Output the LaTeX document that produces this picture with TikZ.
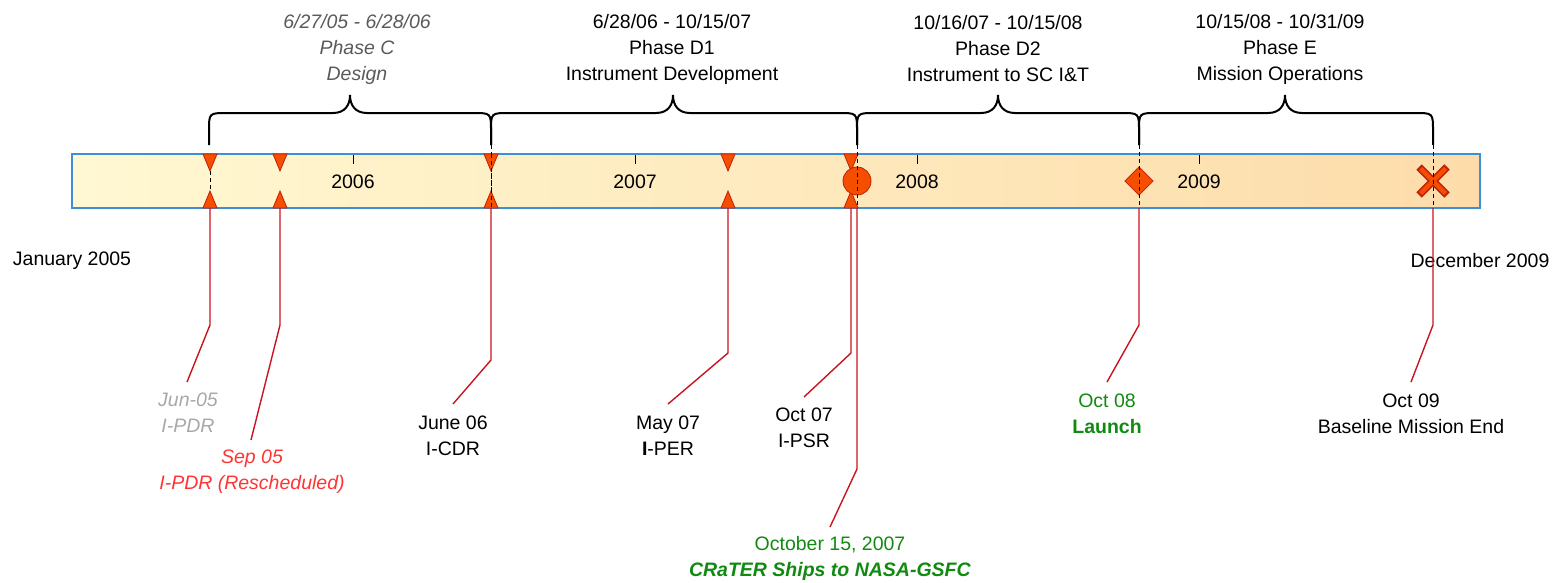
\documentclass[tikz,border=0pt]{standalone}
\usepackage{fontspec}
\setmainfont{Liberation Sans}
\definecolor{mkfill}{HTML}{F54E00}
\definecolor{mkedge}{HTML}{C0200A}
\definecolor{leadred}{HTML}{C8141E}
\definecolor{barblue}{HTML}{3D8FD6}
\definecolor{barleft}{HTML}{FFF8D2}
\definecolor{barright}{HTML}{FDDCAA}
\definecolor{okgreen}{HTML}{118A11}
\definecolor{slipred}{HTML}{FF3333}
\definecolor{oldgray}{HTML}{A8A8A8}
\definecolor{phasegray}{HTML}{5A5A5A}
\begin{document}
\begin{tikzpicture}[x=1pt,y=-1pt,
  lbl/.style={font=\fontsize{19.5}{26}\selectfont, align=center, inner sep=0pt},
  leader/.style={draw=leadred, line width=1.4pt},
  bracket/.style={draw=black, line width=2pt},
  guide/.style={draw=black, line width=1pt, dash pattern=on 4pt off 3pt},
  mk/.style={fill=mkfill, draw=mkedge, line width=0.8pt},
  tick/.style={draw=black, line width=1pt},
]
\useasboundingbox (0,0) rectangle (1553,582);

% timeline bar
\node (bar) [draw=barblue, line width=1.5pt, left color=barleft, right color=barright,
  minimum width=1408pt, minimum height=54pt, inner sep=0pt] at (776,181) {};

% year ticks and labels
\foreach \x/\yr in {353/2006, 635/2007, 917/2008, 1199/2009} {
  \draw[tick] (\x,155) -- (\x,164);
  \node[lbl] (yr\yr) at (\x,182) {\yr};
}

% phase brackets
\foreach \a/\m/\b in {209/350/491, 491/673/857, 857/998/1139, 1139/1285/1433} {
  \draw[bracket] (\a,145) -- (\a,131)
    .. controls (\a,113) .. ({\a+18},113) -- ({\m-17},113)
    .. controls ({\m-5},113) and (\m,105) .. (\m,95)
    .. controls (\m,105) and ({\m+5},113) .. ({\m+17},113) -- ({\b-18},113)
    .. controls (\b,113) .. (\b,131) -- (\b,145);
}

% phase headers
\node[lbl, text=phasegray, font=\fontsize{19.5}{26}\selectfont\itshape] (ph1) at (357,49)
  {6/27/05 - 6/28/06\\Phase C\\Design};
\node[lbl] (ph2) at (672,49) {6/28/06 - 10/15/07\\Phase D1\\Instrument Development};
\node[lbl] (ph3) at (998,49) {10/16/07 - 10/15/08\\Phase D2\\Instrument to SC I\&T};
\node[lbl] (ph4) at (1280,49) {10/15/08 - 10/31/09\\Phase E\\Mission Operations};

% dashed guides
\draw[guide] (210,171) -- (210,191);
\draw[guide] (491,145) -- (491,208);

% milestone triangles
\foreach \x in {210, 280, 491, 728, 851} {
  \draw[mk] ({\x-7},154) -- ({\x+7},154) -- (\x,171) -- cycle;
  \draw[mk] ({\x-7},208) -- ({\x+7},208) -- (\x,191) -- cycle;
}
\draw[guide] (491,154) -- (491,208);

% ship, launch and end markers
\node (ship) [circle, mk, minimum size=28pt, inner sep=0pt] at (857,181) {};
\node (launch) [mk, draw, shape=rectangle, rotate=45, minimum size=20pt, inner sep=0pt] at (1139,181) {};
\draw[mkedge, line width=7.5pt] (1419,167) -- (1447,195) (1419,195) -- (1447,167);
\draw[mkfill, line width=4.5pt] (1420.5,168.5) -- (1445.5,193.5) (1420.5,193.5) -- (1445.5,168.5);
\coordinate (endmk) at (1433,181);
\draw[guide] (857,145) -- (857,208);
\draw[guide] (1139,145) -- (1139,208);
\draw[guide] (1433,145) -- (1433,208);

% range ends
\node[lbl] (jan) at (72,261) {January 2005};
\node[lbl] (dec) at (1480,261) {December 2009};

% milestone labels
\node[lbl, text=oldgray, font=\fontsize{19.5}{26}\selectfont\itshape] (l1) at (188,413) {Jun-05\\I-PDR};
\node[lbl, text=slipred, font=\fontsize{19.5}{26}\selectfont\itshape] (l2) at (252,472) {Sep 05\\I-PDR (Rescheduled)};
\node[lbl] (l3) at (453,436) {June 06\\I-CDR};
\node[lbl] (l4) at (668,436) {May 07\\\textbf{I}-PER};
\node[lbl] (l5) at (804,428) {Oct 07\\I-PSR};
\node[lbl, text=okgreen] (l6) at (830,558) {October 15, 2007\\\textbf{\itshape CRaTER Ships to NASA-GSFC}};
\node[lbl, text=okgreen] (l7) at (1107,414) {Oct 08\\\textbf{Launch}};
\node[lbl] (l8) at (1411,414) {Oct 09\\Baseline Mission End};

% leader anchor points
\coordinate (m1) at (210,208); \coordinate (b1) at (210,325); \coordinate (e1) at (187,382);
\coordinate (m2) at (280,208); \coordinate (b2) at (280,325); \coordinate (e2) at (251,440);
\coordinate (m3) at (491,208); \coordinate (b3) at (491,360); \coordinate (e3) at (453,404);
\coordinate (m4) at (728,208); \coordinate (b4) at (728,353); \coordinate (e4) at (668,404);
\coordinate (m5) at (851,208); \coordinate (b5) at (851,353); \coordinate (e5) at (804,397);
\coordinate (m6) at (857,208); \coordinate (b6) at (857,469); \coordinate (e6) at (830,527);
\coordinate (m7) at (1139,208); \coordinate (b7) at (1139,325); \coordinate (e7) at (1107,382);
\coordinate (m8) at (1433,208); \coordinate (b8) at (1433,325); \coordinate (e8) at (1411,382);

% leaders
\foreach \i in {1,...,8} {
  \draw[leader] (m\i) -- (b\i) -- (e\i);
}
\end{tikzpicture}
\end{document}
